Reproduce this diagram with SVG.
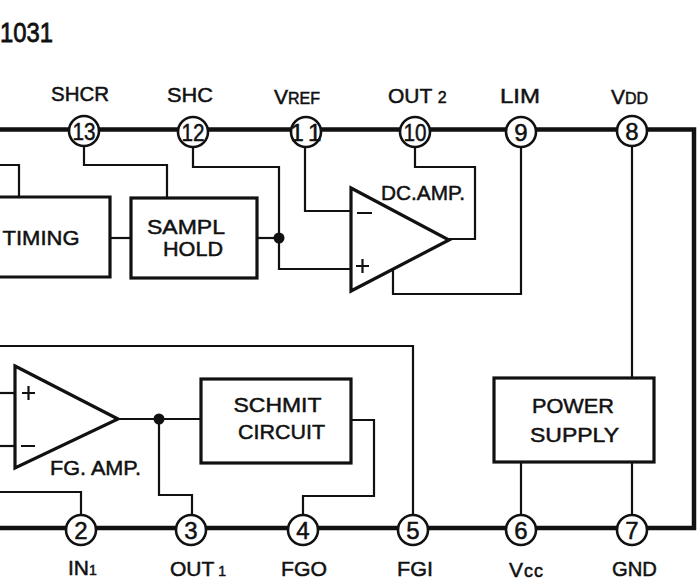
<svg xmlns="http://www.w3.org/2000/svg" width="698" height="584" viewBox="0 0 698 584">
<style>
text{font-family:"Liberation Sans",Arial,sans-serif;fill:#111;stroke:#111;stroke-width:.5}
.bus{fill:none;stroke:#111;stroke-width:4.5}
.w{fill:none;stroke:#111;stroke-width:2.2}
.b{fill:#fff;stroke:#111;stroke-width:3.2;stroke-linejoin:miter}
.p{fill:#fff;stroke:#111;stroke-width:2.6}
.n{font-size:24px;text-anchor:middle}
.l{font-size:21px}
.s{font-size:21px;text-anchor:middle}
.d{fill:#111}
</style>
<g id="connectors">
<path class="bus" d="M0 129.500H694V528H0"/>
<path class="w" d="M84 146V165H167V198"/>
<path class="w" d="M193 146V167H279V269H350"/>
<path class="w" d="M305 146V211H350"/>
<path class="w" d="M415 147V167H475V239H449"/>
<path class="w" d="M521 147V294H393V268"/>
<path class="w" d="M632 147V378"/>
<path class="w" d="M0 165H19V197"/>
<path class="w" d="M110 238H131"/>
<path class="w" d="M257 238H279"/>
<path class="w" d="M521 462V515"/>
<path class="w" d="M632 462V514"/>
<path class="w" d="M413 515V346H0"/>
<path class="w" d="M0 393H15"/>
<path class="w" d="M0 446H15"/>
<path class="w" d="M118 419H201"/>
<path class="w" d="M159 419V495H192V515"/>
<path class="w" d="M351 420H374V496H303V515"/>
<path class="w" d="M0 492H81V514"/>
<circle class="d" cx="279" cy="238" r="5.500"/>
<circle class="d" cx="159" cy="419" r="5.500"/>
</g>
<text id="title" x="0" y="42" font-size="28" textLength="53" lengthAdjust="spacingAndGlyphs" style="stroke-width:.8">1031</text>
<g id="timing"><path class="b" d="M-3 197H110V277H-3Z"/><text class="s" x="41" y="245" textLength="77" lengthAdjust="spacingAndGlyphs">TIMING</text></g>
<g id="sampl-hold"><rect class="b" x="131" y="198" width="126" height="80"/><text class="s" x="186" y="234" textLength="78" lengthAdjust="spacingAndGlyphs">SAMPL</text><text class="s" x="193" y="256" textLength="60" lengthAdjust="spacingAndGlyphs">HOLD</text></g>
<g id="dc-amp"><path class="b" d="M351 188L449 240L351 291Z"/><path class="w" d="M357 213H372M356 266H369M362.500 259V273"/><text class="l" x="381" y="200" textLength="84" lengthAdjust="spacingAndGlyphs">DC.AMP.</text></g>
<g id="fg-amp"><path class="b" d="M15 366L118 419L15 468Z"/><path class="w" d="M22 393H35M28.500 386V400M21 446H35"/><text class="l" x="50" y="475" textLength="91" lengthAdjust="spacingAndGlyphs">FG. AMP.</text></g>
<g id="schmit"><rect class="b" x="201" y="379" width="150" height="84"/><text class="s" x="277.500" y="412" textLength="88" lengthAdjust="spacingAndGlyphs">SCHMIT</text><text class="s" x="281.500" y="439" textLength="87" lengthAdjust="spacingAndGlyphs">CIRCUIT</text></g>
<g id="power-supply"><rect class="b" x="494" y="378" width="160" height="84"/><text class="s" x="573" y="413" textLength="82" lengthAdjust="spacingAndGlyphs">POWER</text><text class="s" x="574.500" y="442" textLength="89" lengthAdjust="spacingAndGlyphs">SUPPLY</text></g>
<g id="pin13"><circle class="p" cx="84" cy="131" r="15"/><text class="n" x="84" y="139.500" textLength="23" lengthAdjust="spacingAndGlyphs">13</text><text class="l" x="51" y="101" textLength="58" lengthAdjust="spacingAndGlyphs">SHCR</text></g>
<g id="pin12"><circle class="p" cx="193" cy="132" r="15"/><text class="n" x="193" y="140.500" textLength="23" lengthAdjust="spacingAndGlyphs">12</text><text class="l" x="167" y="102" textLength="46" lengthAdjust="spacingAndGlyphs">SHC</text></g>
<g id="pin11"><circle class="p" cx="306" cy="132" r="15"/><text class="n" x="309" y="140.500" letter-spacing="6">11</text><text class="l" x="274" y="104">V<tspan font-size="16">REF</tspan></text></g>
<g id="pin10"><circle class="p" cx="415" cy="132" r="15"/><text class="n" x="415" y="140.500" textLength="23" lengthAdjust="spacingAndGlyphs">10</text><text class="l" x="388" y="103">OUT <tspan font-size="16">2</tspan></text></g>
<g id="pin9"><circle class="p" cx="521" cy="132" r="15"/><text class="n" x="521" y="140.500">9</text><text class="l" x="500" y="103" textLength="40" lengthAdjust="spacingAndGlyphs">LIM</text></g>
<g id="pin8"><circle class="p" cx="632" cy="131" r="15"/><text class="n" x="632" y="139.500">8</text><text class="l" x="611" y="104">V<tspan font-size="16">DD</tspan></text></g>
<g id="pin2"><circle class="p" cx="81" cy="530" r="15"/><text class="n" x="81" y="538.500">2</text><text class="l" x="68" y="575">IN<tspan font-size="14">1</tspan></text></g>
<g id="pin3"><circle class="p" cx="191" cy="530" r="15"/><text class="n" x="191" y="538.500">3</text><text class="l" x="170" y="576">OUT<tspan font-size="14"> 1</tspan></text></g>
<g id="pin4"><circle class="p" cx="303" cy="530" r="15"/><text class="n" x="303" y="538.500">4</text><text class="l" x="281" y="576" textLength="46" lengthAdjust="spacingAndGlyphs">FGO</text></g>
<g id="pin5"><circle class="p" cx="413" cy="530" r="15"/><text class="n" x="413" y="538.500">5</text><text class="l" x="397" y="576" textLength="36" lengthAdjust="spacingAndGlyphs">FGI</text></g>
<g id="pin6"><circle class="p" cx="521" cy="530" r="15"/><text class="n" x="521" y="538.500">6</text><text class="l" x="509" y="577" letter-spacing="1">V<tspan font-size="18">cc</tspan></text></g>
<g id="pin7"><circle class="p" cx="632" cy="530" r="15"/><text class="n" x="632" y="538.500">7</text><text class="l" x="612" y="576" textLength="45" lengthAdjust="spacingAndGlyphs">GND</text></g>
</svg>
